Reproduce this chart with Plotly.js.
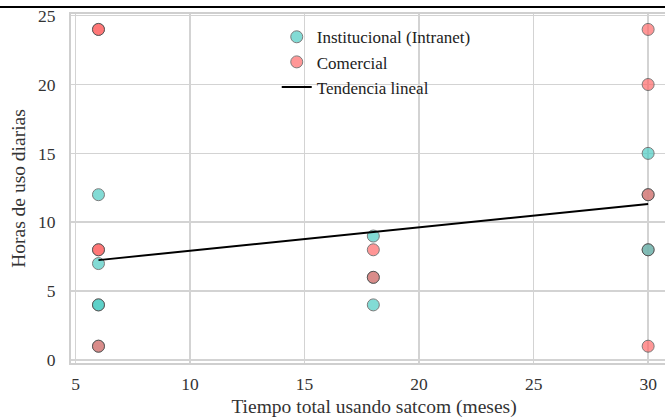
<!DOCTYPE html>
<html>
<head>
<meta charset="utf-8">
<script src="https://cdn.plot.ly/plotly-3.0.1.min.js"></script>
<style>html,body{margin:0;padding:0;background:#fff;overflow:hidden;}#chart{width:677px;height:420px;}</style>
</head>
<body>
<div id="chart"></div>
<script>
// Data (points listed in drawing order)
const meses = [6, 6, 6, 6, 6, 6, 6, 6, 6, 6, 18, 18, 18, 18, 18, 30, 30, 30, 30, 30, 30, 30, 30];
const horas = [12, 7, 4, 4, 1, 1, 8, 8, 24, 24, 9, 8, 6, 6, 4, 24, 20, 15, 12, 12, 8, 8, 1];
const tipo  = ['I','I','I','I','I','C','C','C','C','C','I','C','I','C','I','C','C','I','I','C','C','I','C'];
const nombres = {I: 'Institucional (Intranet)', C: 'Comercial'};
const colores = {I: '#4ECDC4', C: '#FF6B6B'};
const tendenciaX = [6, 30];
const tendenciaY = [7.25, 11.33];
const ticksX = [5, 10, 15, 20, 25, 30];
const ticksY = [0, 5, 10, 15, 20, 25];

const font = "'Liberation Serif', 'Times New Roman', serif";
const markerBase = {size: 12, opacity: 0.7, line: {color: '#444', width: 1}};

const traces = [
  {x: meses, y: horas, type: 'scatter', mode: 'markers', showlegend: false, hoverinfo: 'x+y',
   marker: Object.assign({}, markerBase, {color: tipo.map(t => colores[t])})},
  {x: [null], y: [null], type: 'scatter', mode: 'markers', name: nombres.I,
   marker: Object.assign({}, markerBase, {color: colores.I})},
  {x: [null], y: [null], type: 'scatter', mode: 'markers', name: nombres.C,
   marker: Object.assign({}, markerBase, {color: colores.C})},
  {x: tendenciaX, y: tendenciaY, type: 'scatter', mode: 'lines', name: 'Tendencia lineal',
   line: {color: '#000', width: 2}}
];

const axisCommon = {
  showgrid: true, gridcolor: '#d3d3d3', gridwidth: 1.5,
  showline: true, linecolor: '#cfcfcf', linewidth: 2, mirror: true,
  zeroline: false, ticks: '', tickfont: {family: font, size: 17.5, color: '#333'}
};

const W = 677;
const layout = {
  width: W, height: 420,
  margin: {l: 71, r: 0, t: 14, b: 57},
  paper_bgcolor: '#fff', plot_bgcolor: '#fff',
  font: {family: font, color: '#333'},
  xaxis: Object.assign({}, axisCommon, {
    range: [4.80, 31.26], tickvals: ticksX, ticktext: ticksX.map(String), ticklabelstandoff: 4,
    title: {text: 'Tiempo total usando satcom (meses)', standoff: 6, font: {family: font, size: 19.5, color: '#333'}}
  }),
  yaxis: Object.assign({}, axisCommon, {
    range: [-0.22, 25.12], tickvals: ticksY, ticktext: ticksY.map(String), ticklabelstandoff: 10,
    title: {text: 'Horas de uso diarias', standoff: 7, font: {family: font, size: 19.5, color: '#333'}}
  }),
  legend: {x: 0.3395, y: 0.985, xanchor: 'left', yanchor: 'top', bgcolor: 'rgba(255,255,255,0)',
    font: {family: font, size: 17, color: '#222'}, tracegroupgap: 0, itemwidth: 30},
  shapes: [
    {type: 'line', xref: 'paper', yref: 'paper', x0: -0.2, x1: 1.05, y0: 1.02, y1: 1.02,
     line: {color: '#000', width: 2}}
  ],
  showlegend: true
};

Plotly.newPlot('chart', traces, layout, {displayModeBar: false, staticPlot: true});
</script>
</body>
</html>
